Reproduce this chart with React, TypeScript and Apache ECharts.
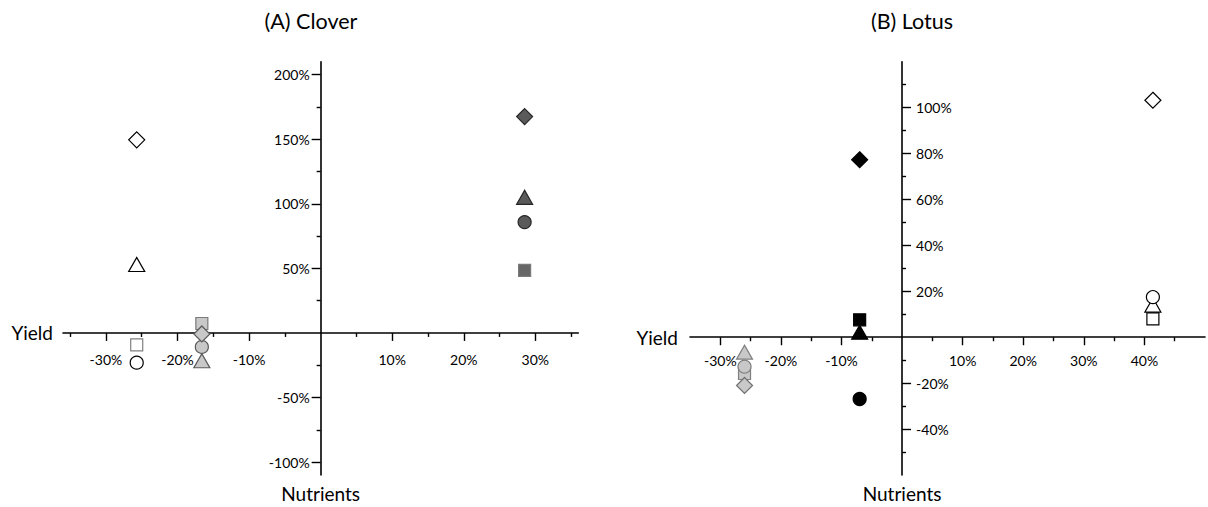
import React, { useEffect, useRef } from "react";
import * as echarts from "echarts";

// ---- Data ----
// Horizontal axis: Yield change (%), one value per treatment group
// Vertical axis: Nutrient change (%), one value per treatment group for each nutrient marker
const cloverGroups = ["open", "light", "dark"];
const cloverYield = [-25.7, -16.6, 28.5];
const cloverDiamond = [149.5, -0.8, 167.5];
const cloverTriangle = [53, -21.5, 105];
const cloverCircle = [-23, -10.8, 85.8];
const cloverSquare = [-9.3, 7.3, 48.5];

const lotusGroups = ["open", "light", "black"];
const lotusYield = [41.4, -26, -7];
const lotusDiamond = [103.2, -21, 77.3];
const lotusTriangle = [14, -6.5, 2.2];
const lotusCircle = [17.5, -12.8, -26.9];
const lotusSquare = [8, -15.8, 7.6];

// Axis ranges and tick values
const cloverXRange = [-36, 36];
const cloverYRange = [-110, 210];
const lotusXRange = [-35, 50];
const lotusYRange = [-60, 120];
const cloverXLabels = [-30, -20, -10, 10, 20, 30];
const cloverXMinor = [-35, -25, -15, -5, 5, 15, 25, 35];
const cloverYLabels = [-100, -50, 50, 100, 150, 200];
const cloverYMinor = [-75, -25, 25, 75, 125, 175];
const lotusXLabels = [-30, -20, -10, 10, 20, 30, 40];
const lotusXMinor = [-25, -15, -5, 5, 15, 25, 35, 45];
const lotusYLabels = [-40, -20, 20, 40, 60, 80, 100];
const lotusYMinor = [-50, -30, -10, 10, 30, 50, 70, 90, 110];

const titles = ["(A) Clover", "(B) Lotus"];

// ---- Styles / layout ----
const FONT = "Lato, 'Noto Sans', sans-serif";
const grids = [
  { left: 63, top: 61.7, width: 515.3, height: 413.3 },
  { left: 690, top: 61.7, width: 515, height: 413.3 },
];
const groupStyles: Record<string, { color: string; borderColor: string }> = {
  open: { color: "#ffffff", borderColor: "#000000" },
  light: { color: "#c8c8c8", borderColor: "#5a5a5a" },
  dark: { color: "#5a5a5a", borderColor: "#262626" },
  black: { color: "#000000", borderColor: "#000000" },
};
const shapeDefs = [
  { key: "square", symbol: "rect", size: 12 },
  { key: "triangle", symbol: "triangle", size: [16, 14] },
  { key: "circle", symbol: "circle", size: 13 },
  { key: "diamond", symbol: "diamond", size: 16 },
];
const overrides: Record<string, { color?: string; borderColor?: string }> = {
  "clover-square-open": { borderColor: "#808080" },
  "clover-square-light": { borderColor: "#7a7a7a" },
  "clover-square-dark": { color: "#666666", borderColor: "#7a7a7a" },
  "lotus-triangle-light": { borderColor: "#808080" },
  "lotus-circle-light": { borderColor: "#808080" },
  "lotus-square-light": { borderColor: "#808080" },
  "lotus-diamond-light": { borderColor: "#707070" },
};

// offset that moves an edge axis onto the other axis' zero
function zeroOffset(dim: "x" | "y", gridIndex: number, position: string, otherRange: number[]) {
  const g = grids[gridIndex];
  const [mn, mx] = otherRange;
  if (dim === "x") {
    // distance from bottom edge to zero of y range
    return -(g.height * (0 - mn)) / (mx - mn);
  }
  if (position === "left") return -(g.width * (0 - mn)) / (mx - mn);
  return -(g.width * (mx - 0)) / (mx - mn);
}

function axis(
  dim: "x" | "y",
  gridIndex: number,
  range: number[],
  otherRange: number[],
  position: string,
  ticks: number[],
  labels: number[] | null,
  tickLen: number,
  showLine: boolean,
  margin: number,
  name?: string,
  nameGap?: number
) {
  return {
    type: "value",
    gridIndex,
    min: range[0],
    max: range[1],
    position,
    offset: zeroOffset(dim, gridIndex, position, otherRange),
    name: name || "",
    nameLocation: "start",
    nameGap: nameGap || 10,
    nameTextStyle: {
      fontFamily: FONT,
      fontSize: 19,
      color: "#000",
      align: dim === "x" ? "right" : "center",
      verticalAlign: dim === "x" ? "middle" : "top",
    },
    splitLine: { show: false },
    axisLine: {
      show: showLine,
      onZero: false,
      lineStyle: { color: "#000", width: 1.6 },
    },
    axisTick: {
      show: true,
      customValues: ticks,
      length: tickLen,
      lineStyle: { color: "#000", width: 1.4 },
    },
    axisLabel: labels
      ? {
          show: true,
          customValues: labels,
          formatter: (v: number) => `${v}%`,
          margin,
          color: "#000",
          fontFamily: FONT,
          fontSize: 14,
        }
      : { show: false },
  };
}

function buildSeries(
  prefix: string,
  groups: string[],
  xs: number[],
  values: Record<string, number[]>,
  axisIndex: number
) {
  return shapeDefs.map((s) => ({
    type: "scatter",
    name: `${prefix}-${s.key}`,
    xAxisIndex: axisIndex,
    yAxisIndex: axisIndex,
    symbol: s.symbol,
    symbolSize: s.size,
    data: groups.map((g, i) => {
      const base = groupStyles[g];
      const ov = overrides[`${prefix}-${s.key}-${g}`] || {};
      return {
        value: [xs[i], values[s.key][i]],
        itemStyle: {
          color: ov.color || base.color,
          borderColor: ov.borderColor || base.borderColor,
          borderWidth: 1.2,
          opacity: 1,
        },
      };
    }),
  }));
}

export default function App() {
  const ref = useRef<HTMLDivElement>(null);
  useEffect(() => {
    document.body.style.margin = "0";
    if (!ref.current) return;
    const chart = echarts.init(ref.current, undefined, { renderer: "svg" });
    const option = {
      animation: false,
      backgroundColor: "#ffffff",
      grid: grids,
      xAxis: [
        axis("x", 0, cloverXRange, cloverYRange, "bottom", cloverXLabels, cloverXLabels, 8, true, 20, "Yield", 10),
        axis("x", 1, lotusXRange, lotusYRange, "bottom", lotusXLabels, lotusXLabels, 8, true, 16, "Yield", 12),
        axis("x", 0, cloverXRange, cloverYRange, "bottom", cloverXMinor, null, 4, false, 0),
        axis("x", 1, lotusXRange, lotusYRange, "bottom", lotusXMinor, null, 4, false, 0),
      ],
      yAxis: [
        axis("y", 0, cloverYRange, cloverXRange, "left", cloverYLabels, cloverYLabels, 9, true, 11, "Nutrients", 9),
        axis("y", 1, lotusYRange, lotusXRange, "right", lotusYLabels, lotusYLabels, 9, true, 14, "Nutrients", 9),
        axis("y", 0, cloverYRange, cloverXRange, "left", cloverYMinor, null, 4, false, 0),
        axis("y", 1, lotusYRange, lotusXRange, "right", lotusYMinor, null, 4, false, 0),
      ],
      graphic: [
        {
          type: "text",
          x: 311,
          y: 21,
          style: {
            text: titles[0],
            fontFamily: FONT,
            fontSize: 21.5,
            fill: "#000",
            align: "center",
            verticalAlign: "middle",
          },
        },
        {
          type: "text",
          x: 912,
          y: 21,
          style: {
            text: titles[1],
            fontFamily: FONT,
            fontSize: 21.5,
            fill: "#000",
            align: "center",
            verticalAlign: "middle",
          },
        },
      ],
      series: [
        ...buildSeries(
          "clover",
          cloverGroups,
          cloverYield,
          { diamond: cloverDiamond, triangle: cloverTriangle, circle: cloverCircle, square: cloverSquare },
          0
        ),
        ...buildSeries(
          "lotus",
          lotusGroups,
          lotusYield,
          { diamond: lotusDiamond, triangle: lotusTriangle, circle: lotusCircle, square: lotusSquare },
          1
        ),
      ],
    };
    chart.setOption(option as any);
    return () => chart.dispose();
  }, []);
  return <div ref={ref} style={{ width: 1208, height: 507 }} />;
}
